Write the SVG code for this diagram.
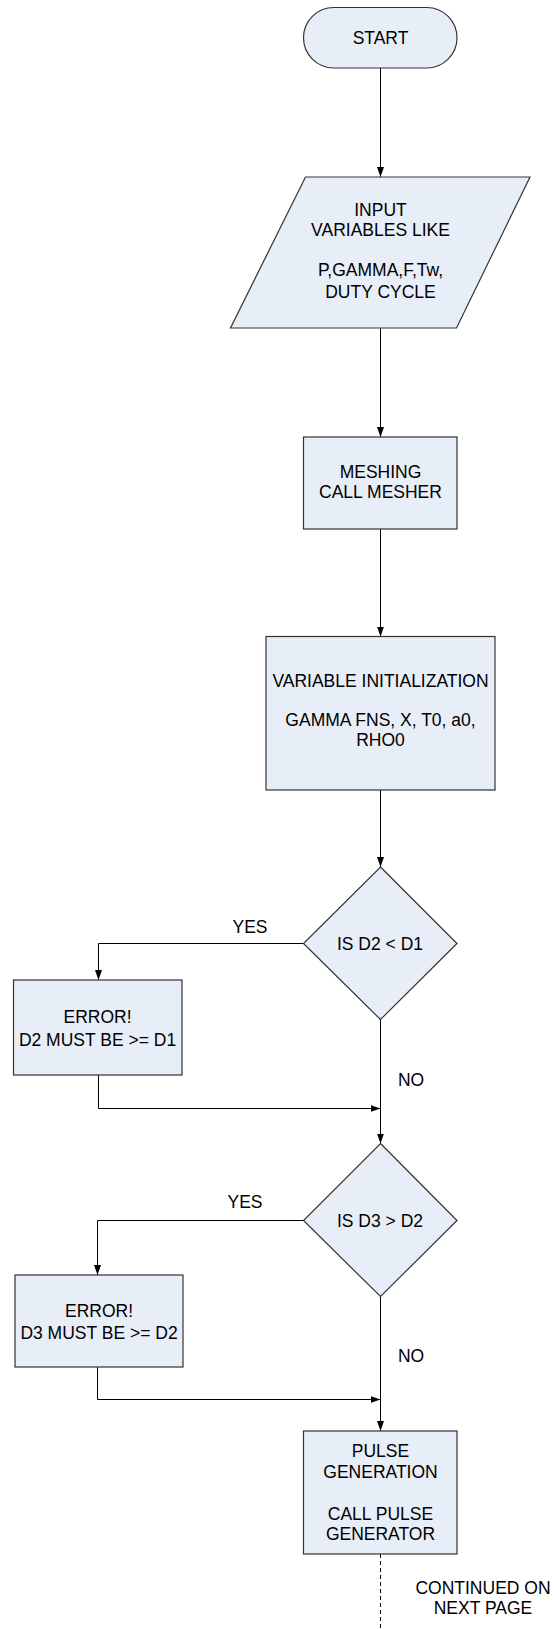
<svg xmlns="http://www.w3.org/2000/svg" width="554" height="1629" viewBox="0 0 554 1629">
  <style>
    .shape { fill: #E8EEF7; stroke: #333333; stroke-width: 1.2; }
    .lbl { font-family: "Liberation Sans", Arial, sans-serif; font-size: 17.5px; fill: #000000; text-anchor: middle; }
    .wire { fill: none; stroke: #000000; stroke-width: 1; }
    .dash { fill: none; stroke: #000000; stroke-width: 1; stroke-dasharray: 4 3; }
  </style>
  <defs>
    <marker id="arrow" viewBox="0 0 10 7" refX="10" refY="3.5" markerWidth="10" markerHeight="7" markerUnits="userSpaceOnUse" orient="auto">
      <path d="M0,0 L10,3.5 L0,7 Z" fill="#000000"/>
    </marker>
  </defs>
  <rect width="554" height="1629" fill="#FFFFFF"/>

  <!-- connectors -->
  <g id="connectors">
    <path class="wire" d="M380.5,68 V177" marker-end="url(#arrow)"/>
    <path class="wire" d="M380.5,328 V437" marker-end="url(#arrow)"/>
    <path class="wire" d="M380.5,529 V636.5" marker-end="url(#arrow)"/>
    <path class="wire" d="M380.5,790 V867" marker-end="url(#arrow)"/>
    <path class="wire" d="M303.5,943.5 H98.5 V980" marker-end="url(#arrow)"/>
    <path class="wire" d="M98.5,1075 V1108.5 H380.5" marker-end="url(#arrow)"/>
    <path class="wire" d="M380.5,1019.5 V1143.5" marker-end="url(#arrow)"/>
    <path class="wire" d="M303.5,1220.5 H97.5 V1275" marker-end="url(#arrow)"/>
    <path class="wire" d="M97.5,1367 V1399.5 H380.5" marker-end="url(#arrow)"/>
    <path class="wire" d="M380.5,1296.5 V1431" marker-end="url(#arrow)"/>
    <path class="dash" d="M380.5,1554 V1629"/>
    <text class="lbl" x="250" y="933">YES</text>
    <text class="lbl" x="245" y="1208">YES</text>
    <text class="lbl" x="411" y="1086">NO</text>
    <text class="lbl" x="411" y="1362">NO</text>
    <text class="lbl" x="483" y="1594">CONTINUED ON</text>
    <text class="lbl" x="483" y="1614">NEXT PAGE</text>
  </g>

  <g id="start">
    <rect class="shape" x="303.5" y="7.5" width="153.5" height="60.5" rx="30.25" ry="30.25"/>
    <text class="lbl" x="380.5" y="43.5">START</text>
  </g>

  <g id="input">
    <polygon class="shape" points="305.5,177 530,177 456.5,328 230.5,328"/>
    <text class="lbl" x="380.5" y="216">INPUT</text>
    <text class="lbl" x="380.5" y="236">VARIABLES LIKE</text>
    <text class="lbl" x="380.5" y="276">P,GAMMA,F,Tw,</text>
    <text class="lbl" x="380.5" y="298">DUTY CYCLE</text>
  </g>

  <g id="meshing">
    <rect class="shape" x="303.5" y="437" width="153.5" height="92"/>
    <text class="lbl" x="380.5" y="478">MESHING</text>
    <text class="lbl" x="380.5" y="498">CALL MESHER</text>
  </g>

  <g id="init">
    <rect class="shape" x="266" y="636.5" width="229" height="153.5"/>
    <text class="lbl" x="380.5" y="686.5">VARIABLE INITIALIZATION</text>
    <text class="lbl" x="380.5" y="726">GAMMA FNS, X, T0, a0,</text>
    <text class="lbl" x="380.5" y="745.5">RHO0</text>
  </g>

  <g id="check-d2">
    <polygon class="shape" points="380.5,867 457,943.5 380.5,1019.5 303.5,943.5"/>
    <text class="lbl" x="380" y="949.5">IS D2 &lt; D1</text>
  </g>

  <g id="error-d2">
    <rect class="shape" x="13.5" y="980" width="168.5" height="95"/>
    <text class="lbl" x="97.5" y="1022.5">ERROR!</text>
    <text class="lbl" x="97.5" y="1046">D2 MUST BE &gt;= D1</text>
  </g>

  <g id="check-d3">
    <polygon class="shape" points="380.5,1143.5 457,1220.5 380.5,1296.5 303.5,1220.5"/>
    <text class="lbl" x="380" y="1226.5">IS D3 &gt; D2</text>
  </g>

  <g id="error-d3">
    <rect class="shape" x="15" y="1275" width="168" height="92"/>
    <text class="lbl" x="99" y="1317">ERROR!</text>
    <text class="lbl" x="99" y="1339">D3 MUST BE &gt;= D2</text>
  </g>

  <g id="pulse">
    <rect class="shape" x="303.5" y="1431" width="153.5" height="123"/>
    <text class="lbl" x="380.5" y="1457">PULSE</text>
    <text class="lbl" x="380.5" y="1477.5">GENERATION</text>
    <text class="lbl" x="380.5" y="1519.5">CALL PULSE</text>
    <text class="lbl" x="380.5" y="1540">GENERATOR</text>
  </g>
</svg>
